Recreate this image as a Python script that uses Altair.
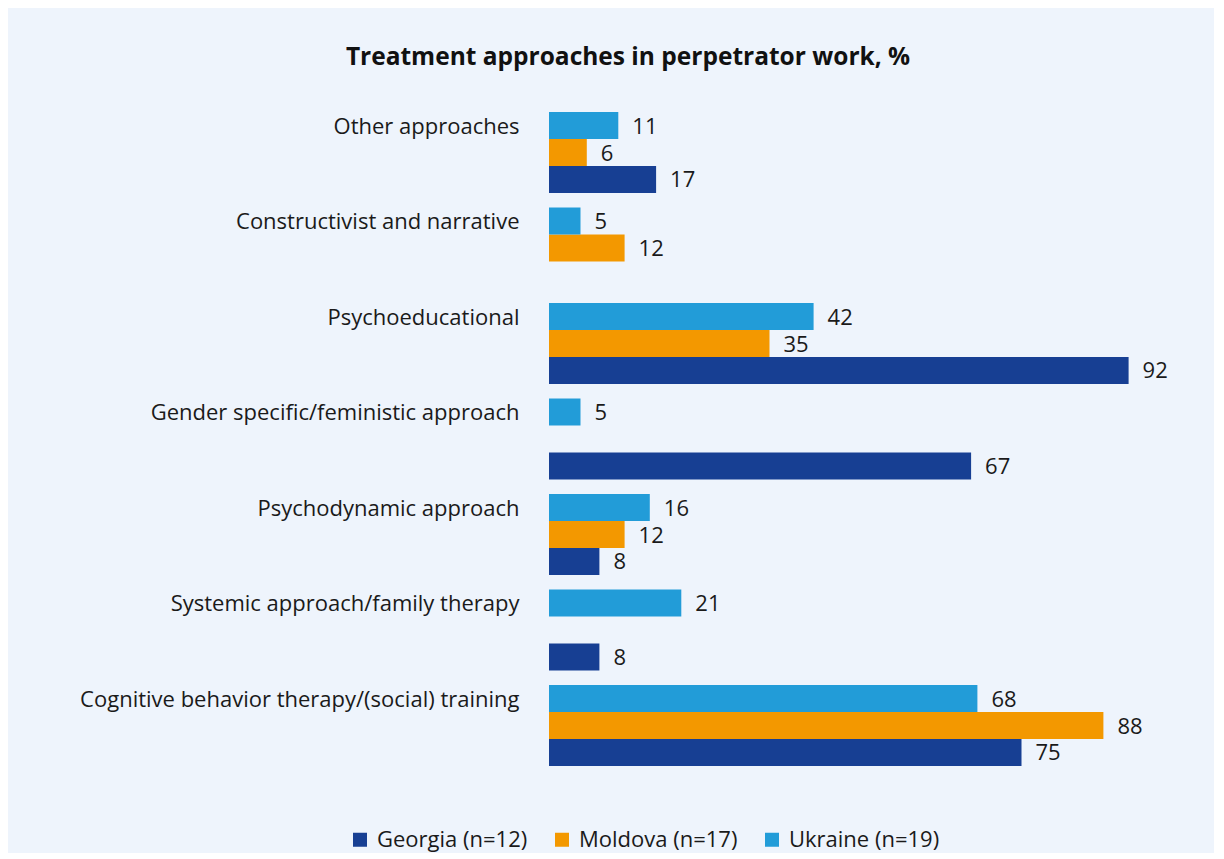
import altair as alt
import pandas as pd

categories = [
    "Other approaches",
    "Constructivist and narrative",
    "Psychoeducational",
    "Gender specific/feministic approach",
    "Psychodynamic approach",
    "Systemic approach/family therapy",
    "Cognitive behavior therapy/(social) training",
]
series = ["Georgia (n=12)", "Moldova (n=17)", "Ukraine (n=19)"]
georgia = [17, None, 92, 67, 8, 8, 75]
moldova = [6, 12, 35, None, 12, None, 88]
ukraine = [11, 5, 42, 5, 16, 21, 68]
colors = ["#173F93", "#F39800", "#229CD8"]

rows = []
for name, vals in zip(series, [georgia, moldova, ukraine]):
    for c, v in zip(categories, vals):
        if v is not None:
            rows.append({"category": c, "series": name, "value": v})
df = pd.DataFrame(rows)

FONT = "Open Sans"
FS = 22
offset_order = ["Ukraine (n=19)", "Moldova (n=17)", "Georgia (n=12)"]

y = alt.Y("category:N", sort=categories, title=None,
          scale=alt.Scale(paddingInner=0.152, paddingOuter=0.076),
          axis=alt.Axis(domain=False, ticks=False, labelPadding=30, labelOffset=-26,
                        labelFontSize=FS, labelColor="#1a1a1a", labelFont=FONT, labelLimit=600))
yoff = alt.YOffset("series:N", sort=offset_order,
                   scale=alt.Scale(domain=offset_order, paddingInner=0, paddingOuter=0))

base = alt.Chart(df).encode(y=y, yOffset=yoff)

bars = base.mark_bar().encode(
    x=alt.X("value:Q", scale=alt.Scale(domain=[0, 100]), axis=None),
    color=alt.Color("series:N", scale=alt.Scale(domain=series, range=colors),
                    legend=alt.Legend(title=None, orient="none", direction="horizontal",
                                      legendX=-200, legendY=724, symbolType="square",
                                      symbolSize=196, symbolStrokeWidth=0, labelFontSize=FS,
                                      labelFont=FONT, labelColor="#1a1a1a", columnPadding=23,
                                      symbolOffset=0, labelOffset=6)),
)
labels = base.mark_text(align="left", baseline="middle", dx=14, dy=1, fontSize=FS,
                        font=FONT, color="#1a1a1a").encode(
    x=alt.X("value:Q", scale=alt.Scale(domain=[0, 100]), axis=None),
    text="value:Q",
)

chart = (bars + labels).properties(
    width=630, height=668.5,
    background="#EEF4FC",
    padding={"left": 541, "top": 96.75, "right": 35, "bottom": 80},
    autosize=alt.AutoSizeParams(type="none"),
    title=alt.TitleParams("Treatment approaches in perpetrator work, %", fontSize=24.5,
                          font=FONT, fontWeight="bold", color="#111", anchor="middle",
                          frame="group", dx=-236, offset=34),
).configure_view(stroke=None)

chart.save("out.html", embed_options={"renderer": "svg", "actions": False})
